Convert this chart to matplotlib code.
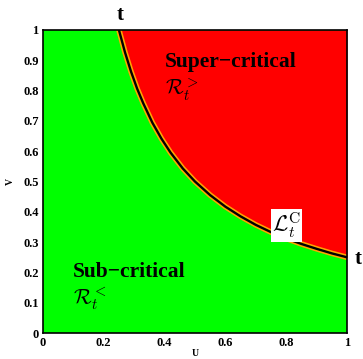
import numpy as np
import matplotlib.pyplot as plt

plt.rcParams['font.family'] = ['Liberation Serif', 'DejaVu Serif']
plt.rcParams['mathtext.fontset'] = 'cm'

# critical line (U, V)
u_crit = [0.25, 0.27, 0.29, 0.31, 0.33, 0.36, 0.39, 0.42, 0.46, 0.50, 0.55,
          0.60, 0.65, 0.70, 0.75, 0.80, 0.85, 0.90, 0.95, 1.00]
v_crit = [1.00, 0.926, 0.862, 0.806, 0.758, 0.694, 0.641, 0.595, 0.543, 0.50,
          0.455, 0.417, 0.385, 0.357, 0.333, 0.312, 0.294, 0.278, 0.263, 0.25]

ticks = [0, 0.2, 0.4, 0.6, 0.8, 1]
tick_labels = ['0', '0.2', '0.4', '0.6', '0.8', '1']
yticks = [0, 0.1, 0.2, 0.3, 0.4, 0.5, 0.6, 0.7, 0.8, 0.9, 1]
ytick_labels = ['0', '0.1', '0.2', '0.3', '0.4', '0.5', '0.6', '0.7', '0.8', '0.9', '1']

fig = plt.figure(figsize=(3.63, 3.59), dpi=100)
ax = fig.add_axes([0.118, 0.072, 0.838, 0.845])
ax.set_facecolor('#00ff00')

ax.fill_between(u_crit, v_crit, 1, color='#ff0000', linewidth=0)
ax.plot(u_crit, v_crit, color='#ffa500', lw=4.0, solid_capstyle='butt')
ax.plot(u_crit, v_crit, color='black', lw=1.7, solid_capstyle='butt')

ax.set_xlim(0, 1)
ax.set_ylim(0, 1)
ax.set_xticks(ticks)
ax.set_xticklabels(tick_labels, fontweight='bold', fontsize=9)
ax.set_yticks(yticks)
ax.set_yticklabels(ytick_labels, fontweight='bold', fontsize=9)
ax.tick_params(length=0, pad=3)
for s in ax.spines.values():
    s.set_linewidth(1.2)

ax.set_xlabel('U', fontweight='bold', fontsize=7, labelpad=0)
ax.set_ylabel('V', fontweight='bold', fontsize=7, labelpad=6)

ax.text(0.40, 0.895, 'Super−critical', fontsize=15.5, fontweight='bold', va='center')
ax.text(0.40, 0.80, r'$\mathcal{R}_t^{>}$', fontsize=15, va='center')
ax.text(0.10, 0.20, 'Sub−critical', fontsize=15.5, fontweight='bold', va='center')
ax.text(0.10, 0.11, r'$\mathcal{R}_t^{<}$', fontsize=15, va='center')
ax.text(0.80, 0.355, r'$\mathcal{L}_t^{\mathrm{C}}$', fontsize=16, ha='center', va='center',
        bbox=dict(facecolor='white', edgecolor='none', pad=1.0))

ax.text(0.253, 1.05, 't', fontsize=15, fontweight='bold', ha='center', va='center', clip_on=False)
ax.text(1.035, 0.245, 't', fontsize=15, fontweight='bold', ha='center', va='center', clip_on=False)

fig.savefig('out.png', dpi=100)
